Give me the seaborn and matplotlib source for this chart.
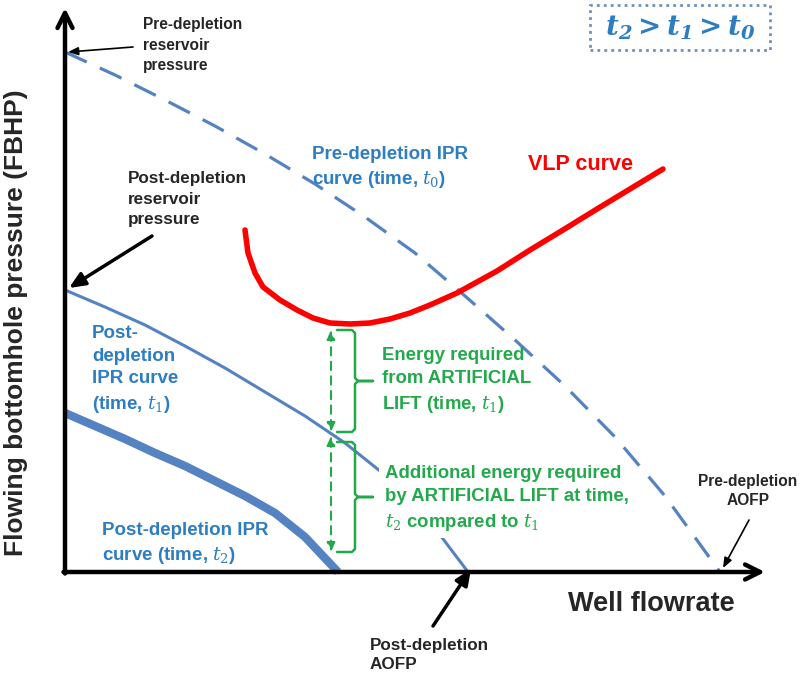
import matplotlib
matplotlib.use("Agg")
import matplotlib.pyplot as plt
import seaborn as sns
from matplotlib import font_manager
from matplotlib.patches import Rectangle

# curve samples (flowrate, FBHP) in arbitrary units
pre_q = [0, 50, 100, 150, 200, 250, 300, 350, 400, 450, 500, 550, 600, 655]
pre_p = [520, 497, 472, 446, 418, 388, 355, 319, 276, 232, 186, 135, 76, 0]

t1_q = [0, 40, 80, 120, 160, 200, 240, 280, 320, 360, 403]
t1_p = [282, 265, 247, 226, 204, 180, 156, 129, 97, 57, 0]

t2_q = [0, 30, 60, 90, 120, 150, 180, 210, 240, 273]
t2_p = [159, 146, 133, 119, 106, 91, 76, 59, 35, 0]

vlp_q = [180, 183, 190, 198, 215, 232, 248, 265, 285, 305, 325, 345, 365,
         392, 432, 465, 498, 532, 565, 598]
vlp_p = [342, 319, 299, 285, 272, 262, 254, 249, 248, 249, 253, 259, 267,
         279, 301, 322, 342, 363, 383, 403]

# artificial lift gap (at the flowrate where the VLP has its minimum)
lift_q = 266
lift_p = [242, 138, 20]   # VLP min, t1 IPR, t2 IPR

BLUE_LINE = "#5582c0"
BLUE_TXT = "#2d7dc2"
GREEN = "#23a94c"
RED = "#ff0000"


def pick_bold_family():
    # first sans family that really ships a bold face
    for name in ["Liberation Sans", "Arimo", "Roboto", "Open Sans", "Noto Sans",
                 "Lato", "Inter", "DejaVu Sans"]:
        for f in font_manager.fontManager.ttflist:
            if f.name == name and f.weight in (600, 700, 800, "bold", "semibold") \
                    and f.style == "normal":
                return name
    return "DejaVu Sans"


sns.set_theme(style="white")
FAMILY = pick_bold_family()
plt.rcParams["font.family"] = [FAMILY, "DejaVu Sans"]
plt.rcParams["mathtext.fontset"] = "custom"
plt.rcParams["mathtext.rm"] = "DejaVu Serif"
plt.rcParams["mathtext.it"] = "DejaVu Serif:italic"
plt.rcParams["mathtext.bf"] = "DejaVu Serif:italic:bold"

B = dict(fontweight="bold")

fig = plt.figure(figsize=(8, 6.76), dpi=100)
ax = fig.add_axes([0, 0, 1, 1])
ax.set_xlim(-65, 735)
ax.set_ylim(-104, 572)
ax.axis("off")

# axes arrows
arrow_kw = dict(arrowstyle="->,head_length=0.9,head_width=0.45", color="black",
                lw=3.2, shrinkA=0, shrinkB=0)
ax.annotate("", xy=(0, 564), xytext=(0, -1.5), arrowprops=arrow_kw, zorder=5)
ax.annotate("", xy=(700, 0), xytext=(-1.5, 0), arrowprops=arrow_kw, zorder=5)

# IPR curves
sns.lineplot(x=pre_q, y=pre_p, ax=ax, color=BLUE_LINE, lw=2.3, sort=False)
ax.lines[-1].set_dashes([7.5, 4.5])
sns.lineplot(x=t1_q, y=t1_p, ax=ax, color=BLUE_LINE, lw=2.2, sort=False)
sns.lineplot(x=t2_q, y=t2_p, ax=ax, color=BLUE_LINE, lw=6, sort=False,
             solid_capstyle="butt")
# VLP
sns.lineplot(x=vlp_q, y=vlp_p, ax=ax, color=RED, lw=4, sort=False)

# energy arrows
for top, bot in [(lift_p[0], lift_p[1] + 2), (lift_p[1] - 2, lift_p[2])]:
    ax.annotate("", xy=(lift_q, bot), xytext=(lift_q, top),
                arrowprops=dict(arrowstyle="<|-|>,head_length=0.45,head_width=0.2",
                                color=GREEN, lw=1.5, ls=(0, (4, 3)),
                                shrinkA=0, shrinkB=0))


def brace(x0, x1, xtip, ytop, ybot):
    ymid = (ytop + ybot) / 2
    r = 3
    xs = [x0, x1 - r, x1, x1, x1 + r, xtip, x1 + r, x1, x1, x1 - r, x0]
    ys = [ytop, ytop, ytop - r, ymid + r, ymid, ymid, ymid, ymid - r, ybot + r, ybot, ybot]
    ax.plot(xs, ys, color=GREEN, lw=1.8, solid_joinstyle="round")


brace(lift_q + 6, lift_q + 24, lift_q + 42, lift_p[0], lift_p[1] + 2)
brace(lift_q + 6, lift_q + 24, lift_q + 42, lift_p[1] - 8, lift_p[2])

# green labels
ax.text(317, 191, "Energy required\nfrom ARTIFICIAL\nLIFT (time, $t_1$)",
        color=GREEN, fontsize=13.4, va="center", linespacing=1.45, **B)
ax.text(320, 73, "Additional energy required\nby ARTIFICIAL LIFT at time,\n"
        "$t_2$ compared to $t_1$", color=GREEN, fontsize=13.4, va="center",
        linespacing=1.45, zorder=4,
        bbox=dict(boxstyle="square,pad=0.3", fc="white", ec="none"), **B)

# blue labels
ax.text(247, 404, "Pre-depletion IPR\ncurve (time, $t_0$)", color=BLUE_TXT,
        fontsize=13.5, va="center", linespacing=1.4, **B)
ax.text(27, 202, "Post-\ndepletion\nIPR curve\n(time, $t_1$)", color=BLUE_TXT,
        fontsize=13.5, va="center", linespacing=1.45, **B)
ax.text(37, 28, "Post-depletion IPR\ncurve (time, $t_2$)", color=BLUE_TXT,
        fontsize=13.5, va="center", linespacing=1.4, **B)
ax.text(463, 407, "VLP curve", color=RED, fontsize=15.5, va="center", **B)

# black annotations
ax.text(78, 527, "Pre-depletion\nreservoir\npressure", fontsize=11.2,
        va="center", linespacing=1.45, **B)
ax.annotate("", xy=(3, 520), xytext=(68, 525),
            arrowprops=dict(arrowstyle="-|>,head_length=0.5,head_width=0.2",
                            color="black", lw=1.2, shrinkA=0, shrinkB=0))
ax.text(63, 373, "Post-depletion\nreservoir\npressure", fontsize=12.3,
        va="center", linespacing=1.45, **B)
ax.annotate("", xy=(4, 284), xytext=(87, 336),
            arrowprops=dict(arrowstyle="-|>,head_length=0.8,head_width=0.35",
                            color="black", lw=2.5, shrinkA=0, shrinkB=0))
ax.text(683, 81, "Pre-depletion\nAOFP", fontsize=11.2, va="center",
        ha="center", linespacing=1.35, **B)
ax.annotate("", xy=(658, 4), xytext=(684, 52),
            arrowprops=dict(arrowstyle="-|>,head_length=0.5,head_width=0.2",
                            color="black", lw=1.2, shrinkA=0, shrinkB=0))
ax.text(305, -83, "Post-depletion\nAOFP", fontsize=12.3, va="center",
        linespacing=1.35, **B)
ax.annotate("", xy=(406, 3), xytext=(368, -54),
            arrowprops=dict(arrowstyle="-|>,head_length=0.8,head_width=0.35",
                            color="black", lw=2.5, shrinkA=0, shrinkB=0))

# axis titles
ax.text(503, -32, "Well flowrate", fontsize=19.5, va="center", **B)
ax.text(-49, 249, "Flowing bottomhole pressure (FBHP)", fontsize=19,
        rotation=90, ha="center", va="center", **B)

# time order box
ax.add_patch(Rectangle((525, 522), 180, 45, fill=False, ec="#6d8fc0", lw=2,
                       ls=(0, (1, 1.5))))
ax.text(615, 544, r"$\mathbf{t_2 > t_1 > t_0}$", color=BLUE_TXT, fontsize=20,
        ha="center", va="center")

fig.savefig("out.png", dpi=100)
